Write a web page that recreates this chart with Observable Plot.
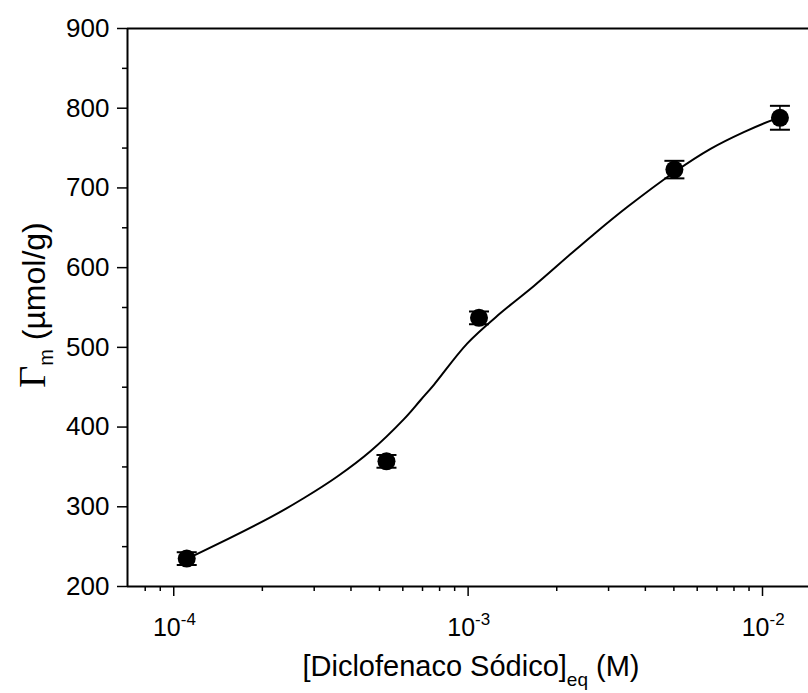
<!DOCTYPE html>
<html><head><meta charset="utf-8">
<script src="https://cdn.jsdelivr.net/npm/d3@7"></script>
<script src="https://cdn.jsdelivr.net/npm/@observablehq/plot@0.6"></script>
<style>body{margin:0;background:#fff}</style>
</head><body><div id="chart"></div>
<script>
// Measured points
const concentration = [1.107e-4, 5.28e-4, 1.089e-3, 5.02e-3, 1.146e-2];
const gammaM = [235, 357, 537, 723, 788];
const gammaErr = [8, 8, 8, 11, 15];
// Fitted curve
const fitX = [1.107e-4, 1.203e-4, 2.136e-4, 2.77e-4, 3.596e-4, 4.667e-4, 6.053e-4, 6.9e-4, 7.65e-4, 9.94e-4, 1.289e-3, 1.673e-3, 2.229e-3, 2.675e-3, 3.472e-3, 5.026e-3, 6.66e-3, 8.64e-3, 1.079e-2, 1.146e-2];
const fitY = [235, 241, 287, 311, 338, 370, 410, 434, 453, 505, 543, 577, 617, 642, 676, 720, 749, 770, 785, 788];
// Ticks
const xMajorTicks = [1e-4, 1e-3, 1e-2];
const xExponents = ["-4", "-3", "-2"];
const xMinorTicks = [8e-5, 9e-5, 2e-4, 3e-4, 4e-4, 5e-4, 6e-4, 7e-4, 8e-4, 9e-4, 2e-3, 3e-3, 4e-3, 5e-3, 6e-3, 7e-3, 8e-3, 9e-3];
const yMajorTicks = [200, 300, 400, 500, 600, 700, 800, 900];
const yMinorTicks = [250, 350, 450, 550, 650, 750, 850];
const xDomain = [6.965e-5, 0.01433];
const yDomain = [200, 900];

const points = concentration.map((c, i) => ({x: c, y: gammaM[i], lo: gammaM[i] - gammaErr[i], hi: gammaM[i] + gammaErr[i]}));
const caps = points.flatMap(p => [{x: p.x, y: p.lo}, {x: p.x, y: p.hi}]);
const fit = fitX.map((x, i) => ({x, y: fitY[i]}));
const capSymbol = {draw(ctx, size) { const w = Math.sqrt(size / Math.PI); ctx.moveTo(-w, 0); ctx.lineTo(w, 0); }};
const font = "'Liberation Sans', Arial, sans-serif";

const chart = Plot.plot({
  width: 808, height: 693,
  marginLeft: 127, marginRight: 0, marginTop: 28, marginBottom: 107,
  style: {fontFamily: font, background: "white", color: "black", overflow: "visible"},
  x: {type: "log", domain: xDomain},
  y: {domain: yDomain},
  marks: [
    Plot.ruleY([yDomain[1]], {strokeWidth: 2}),
    Plot.ruleY([yDomain[0]], {strokeWidth: 2}),
    Plot.ruleX([xDomain[0]], {strokeWidth: 2}),
    Plot.axisX(xMinorTicks, {tickSize: 5, text: null, strokeWidth: 1.5, label: null}),
    Plot.axisX(xMajorTicks, {tickSize: 10, text: null, strokeWidth: 1.5, label: null}),
    Plot.text(xMajorTicks, {x: d => d, frameAnchor: "bottom", text: () => "10", textAnchor: "end", dx: 7, dy: 41, lineAnchor: "middle", fontSize: 25}),
    Plot.text(xMajorTicks, {x: d => d, frameAnchor: "bottom", text: (d, i) => xExponents[i], textAnchor: "start", dx: 7, dy: 33, lineAnchor: "middle", fontSize: 17}),
    Plot.axisY(yMinorTicks, {tickSize: 5, text: null, strokeWidth: 1.5, label: null}),
    Plot.axisY(yMajorTicks, {tickSize: 10, tickPadding: 8, strokeWidth: 1.5, fontSize: 26, label: null, tickFormat: d => String(d)}),
    Plot.line(fit, {x: "x", y: "y", curve: "catmull-rom", strokeWidth: 2}),
    Plot.ruleX(points, {x: "x", y1: "lo", y2: "hi", strokeWidth: 1.5}),
    Plot.dot(caps, {x: "x", y: "y", symbol: capSymbol, r: 10, stroke: "black", strokeWidth: 2}),
    Plot.dot(points, {x: "x", y: "y", r: 9, fill: "black"})
  ]
});

const svg = d3.select(chart);
const yt = svg.append("text")
  .attr("transform", "translate(45,305) rotate(-90)")
  .attr("text-anchor", "middle")
  .style("font-family", font).style("font-size", "32px").attr("fill", "black");
yt.append("tspan").style("font-family", "'Liberation Serif', serif").style("font-size", "38px").text("Γ");
yt.append("tspan").attr("dy", 8).style("font-size", "20px").text("m");
yt.append("tspan").attr("dy", -8).text(" (µmol/g)");

const xt = svg.append("text")
  .attr("x", 471).attr("y", 676)
  .attr("text-anchor", "middle")
  .style("font-family", font).style("font-size", "29px").attr("fill", "black");
xt.append("tspan").text("[Diclofenaco Sódico]");
xt.append("tspan").attr("dy", 10).style("font-size", "19px").text("eq");
xt.append("tspan").attr("dy", -10).text(" (M)");

document.getElementById("chart").appendChild(chart);
</script>
</body></html>
